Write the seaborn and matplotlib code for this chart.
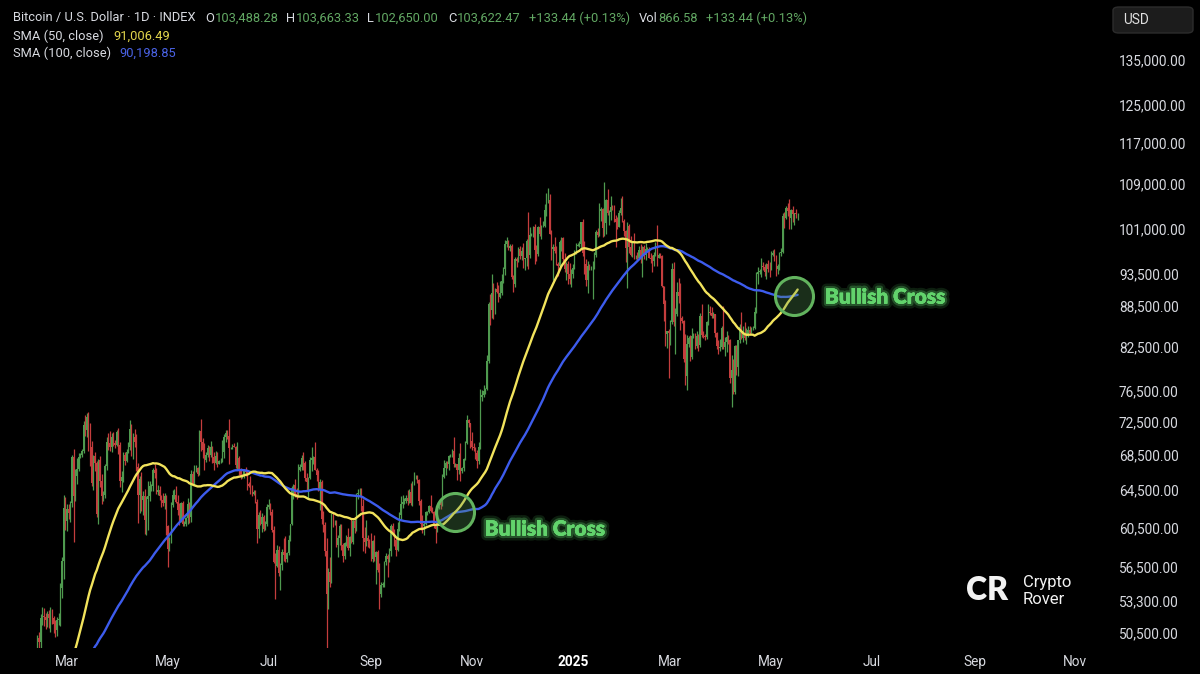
import numpy as np
import pandas as pd
import matplotlib
matplotlib.use("Agg")
import matplotlib.pyplot as plt
import matplotlib.patheffects as pe
from matplotlib.patches import FancyBboxPatch
from matplotlib.ticker import FixedLocator, NullLocator, FuncFormatter
import seaborn as sns

# === Data: BTC daily closes (thousand USD), one row per month ===
closes_2023 = [  # from 2023-11-01
    35.4, 34.9, 34.7, 35.1, 35.0, 35.0, 35.4, 35.6, 36.7, 37.3, 37.1, 37.0, 36.5, 35.5, 37.9,
    36.2, 36.6, 36.6, 37.4, 37.5, 35.8, 37.4, 37.3, 37.7, 37.8, 37.5, 37.2, 37.8, 37.9, 37.7,
    38.7, 39.5, 39.9, 41.9, 44.1, 44.0, 43.8, 44.2, 43.8, 43.8, 41.2, 41.5, 42.9, 43.0, 41.9, 42.2,
    41.4, 42.6, 42.3, 43.7, 43.8, 44.0, 43.7, 43.0, 43.6, 42.5, 43.4, 42.6, 42.1, 42.1, 42.3,
]
closes_2024 = [
    44.2, 44.9, 42.8, 44.2, 44.2, 43.9, 43.9, 47.0, 46.1, 46.6, 46.3, 42.8, 42.8, 41.7, 42.5, 43.1,
    42.7, 41.3, 41.6, 41.7, 41.6, 39.5, 39.8, 40.1, 39.9, 41.8, 42.1, 42.0, 43.3, 42.9, 42.6,
    43.1, 43.2, 43.0, 42.6, 42.7, 43.1, 44.3, 45.3, 47.1, 47.8, 48.3, 50.0, 49.7, 51.8, 52.0,
    51.9, 51.6, 52.1, 51.8, 52.3, 51.8, 51.3, 50.7, 51.6, 51.7, 54.5, 57.1, 62.5, 61.2,
    62.4, 62.0, 63.1, 68.3, 63.8, 66.1, 66.9, 68.3, 68.5, 69.0, 72.1, 71.5, 73.1, 71.4, 69.4, 65.3,
    68.4, 67.6, 61.9, 67.9, 65.5, 63.8, 64.0, 67.2, 70.0, 69.9, 69.5, 70.7, 69.9, 69.7, 71.3,
    69.7, 65.5, 66.0, 68.5, 67.8, 68.9, 69.4, 71.6, 69.1, 70.6, 70.0, 67.1, 63.9, 65.7, 63.4,
    63.8, 61.3, 63.5, 63.8, 64.9, 64.9, 66.8, 66.4, 64.3, 64.5, 63.8, 63.4, 63.1, 63.8, 60.6,
    58.3, 59.1, 62.9, 63.9, 64.0, 63.2, 62.3, 61.2, 63.1, 60.8, 60.8, 61.5, 63.0, 61.6, 66.3, 65.2,
    67.0, 67.0, 66.3, 71.4, 70.1, 69.1, 67.9, 68.5, 69.3, 68.5, 69.4, 68.3, 67.6, 68.4, 67.5,
    67.8, 67.8, 68.8, 70.6, 71.1, 70.8, 69.3, 69.3, 69.6, 69.5, 67.3, 68.2, 66.8, 66.0, 66.2,
    66.6, 66.5, 65.2, 64.9, 64.8, 64.1, 64.3, 63.2, 60.3, 61.8, 60.9, 61.6, 60.3, 60.9, 62.7,
    62.9, 62.1, 60.2, 57.0, 56.6, 58.2, 55.9, 56.7, 58.0, 57.7, 57.3, 57.9, 59.2, 60.8, 64.7, 65.1,
    64.1, 63.9, 66.7, 67.1, 68.2, 67.6, 65.9, 65.4, 65.8, 67.9, 68.2, 68.3, 66.8, 66.2, 64.6,
    65.4, 61.4, 60.7, 58.1, 54.0, 56.0, 55.1, 61.7, 60.9, 60.9, 58.7, 59.4, 60.6, 58.7, 57.6, 58.9,
    59.5, 58.4, 59.5, 59.0, 61.2, 60.4, 64.1, 64.2, 64.2, 62.8, 59.4, 59.0, 59.4, 59.1, 58.9,
    57.3, 59.1, 57.5, 58.0, 56.2, 54.0, 54.8, 54.9, 57.0, 57.6, 57.3, 58.1, 60.6, 60.0, 59.2,
    58.2, 60.3, 61.8, 63.0, 63.2, 63.3, 63.6, 63.3, 64.3, 63.1, 65.2, 65.8, 65.9, 65.6, 63.3,
    60.8, 60.6, 60.8, 62.1, 62.1, 62.8, 62.2, 62.1, 60.6, 60.3, 62.5, 63.2, 62.9, 66.0, 67.0, 67.6,
    67.4, 68.4, 68.4, 69.0, 67.4, 67.4, 66.7, 68.2, 66.6, 67.0, 68.0, 69.9, 72.7, 72.3, 70.2,
    69.5, 69.3, 68.7, 67.8, 69.4, 75.6, 75.9, 76.5, 76.7, 80.5, 88.7, 87.9, 90.5, 87.3, 91.1,
    90.6, 89.8, 90.5, 92.3, 94.3, 98.4, 98.9, 97.7, 98.0, 93.0, 91.9, 95.9, 95.6, 97.5, 96.4,
    97.2, 95.9, 96.0, 98.8, 96.6, 99.9, 99.9, 101.2, 97.4, 96.7, 101.2, 100.0, 101.4, 101.4, 104.3, 106.1,
    106.1, 100.1, 97.5, 97.8, 97.2, 95.1, 94.7, 98.7, 99.4, 95.8, 94.2, 95.1, 93.5, 92.6, 93.4,
]
closes_2025 = [
    94.4, 96.9, 98.1, 98.2, 98.3, 102.1, 96.9, 95.0, 92.5, 94.7, 94.5, 94.5, 94.5, 96.5, 100.5, 99.9,
    104.1, 104.4, 101.1, 102.0, 106.1, 103.7, 104.0, 104.8, 104.7, 102.6, 102.1, 101.3, 103.7, 104.7, 102.4,
    100.6, 97.7, 101.4, 97.9, 96.6, 96.6, 96.5, 96.5, 96.1, 97.4, 95.8, 97.9, 96.6, 97.5,
    97.6, 96.1, 95.8, 95.5, 96.6, 98.3, 96.1, 96.6, 96.3, 91.5, 88.7, 84.3, 84.7, 84.4,
    86.0, 94.3, 86.1, 87.2, 90.6, 89.9, 86.7, 86.2, 80.7, 78.5, 82.9, 83.7, 81.1, 84.0, 84.3, 82.6,
    84.0, 82.7, 86.9, 84.2, 84.0, 83.8, 86.1, 87.5, 87.4, 86.9, 87.2, 84.4, 82.6, 82.3, 82.5,
    85.2, 82.5, 83.1, 83.8, 83.5, 78.2, 79.2, 76.3, 82.6, 79.6, 83.4, 85.3, 83.7, 84.5, 83.7,
    84.0, 84.9, 84.5, 85.1, 85.1, 87.5, 93.4, 93.7, 93.9, 94.7, 94.6, 93.8, 95.0, 94.3, 94.2,
    96.5, 96.9, 95.9, 94.3, 94.7, 96.8, 97.0, 103.2, 102.9, 104.6, 104.1, 102.8, 104.2, 103.5, 103.7,
    103.5, 103.6,
]

# upper / lower wick beyond the candle body (thousand USD), from 2024-02-12
wick_up_2024 = [
    0.3, 0.6, 0.3, 0.8, 0.7, 0.3, 0.3, 0.4, 0.5, 0.3, 0.2, 0.3, 0.3, 0.5, 0.5, 0.4, 1.5, 1.2,
    0.6, 0.6, 0.2, 0.2, 0.9, 0.8, 1.3, 0.4, 0.2, 0.2, 0.5, 1.3, 0.5, 0.7, 1.0, 0.8,
    0.1, 0.4, 0.2, 0.1, 0.5, 0.8, 0.4, 0.2, 0.6, 1.1, 1.5, 0.4, 0.5, 0.4, 0.2,
    0.4, 0.3, 0.6, 0.3, 0.3, 0.3, 0.7, 1.1, 0.6, 0.5, 1.0, 1.0, 0.5, 0.4, 0.8,
    0.6, 0.8, 0.3, 1.7, 0.6, 0.3, 0.2, 0.7, 0.6, 0.6, 0.4, 0.1, 0.8, 0.4, 0.2,
    0.1, 0.4, 0.3, 0.6, 0.6, 1.0, 0.7, 0.8, 0.1, 0.2, 0.4, 0.1, 0.6, 0.2, 0.4, 0.3,
    0.3, 0.3, 0.1, 0.1, 1.4, 0.4, 0.8, 0.4, 0.4, 0.3, 0.8, 0.2, 0.6, 0.6, 0.5,
    0.1, 0.4, 1.5, 0.4, 0.4, 0.4, 2.0, 0.1, 0.2, 0.3, 0.1, 1.8, 0.2, 0.2, 0.1,
    0.3, 0.5, 0.1, 0.2, 1.2, 0.3, 0.2, 0.2, 0.3, 0.3, 0.5, 0.4, 0.2, 0.3, 0.3,
    0.6, 0.2, 0.3, 0.4, 0.9, 0.5, 0.4, 0.2, 0.3, 1.4, 1.9, 0.1, 0.5, 0.1, 0.2, 0.1,
    0.6, 0.6, 0.8, 0.3, 0.3, 0.6, 0.2, 0.5, 0.2, 0.4, 1.3, 0.1, 1.7, 0.2, 0.5,
    0.3, 0.2, 0.8, 0.4, 1.3, 0.4, 1.5, 0.3, 0.4, 0.4, 0.4, 0.3, 0.3, 0.3, 0.2, 0.1,
    0.2, 0.9, 0.1, 1.9, 0.1, 0.4, 0.1, 0.4, 0.5, 0.5, 0.7, 1.1, 1.9, 0.3, 0.2,
    1.0, 0.1, 0.6, 0.1, 0.2, 0.7, 0.3, 0.2, 0.1, 0.3, 0.2, 0.3, 0.2, 0.4, 0.3,
    0.2, 0.8, 0.3, 0.8, 0.7, 0.3, 0.3, 0.9, 0.3, 1.0, 0.3, 0.7, 0.3, 0.3, 0.1,
    0.2, 1.0, 0.4, 0.1, 0.1, 0.1, 1.1, 0.4, 0.1, 1.1, 0.1, 0.2, 0.1, 0.3, 0.9, 0.2,
    0.2, 0.1, 0.2, 0.2, 1.6, 0.2, 0.1, 0.5, 1.7, 0.1, 0.1, 0.3, 0.6, 0.2, 0.1,
    1.1, 0.4, 0.2, 0.4, 0.7, 1.1, 0.7, 0.8, 0.1, 0.8, 0.3, 1.6, 3.0, 1.5, 0.1,
    1.0, 1.1, 1.8, 1.1, 0.3, 0.6, 0.6, 0.1, 0.4, 0.4, 0.2, 0.3, 0.3, 0.3, 0.5,
    0.6, 1.3, 0.1, 0.4, 5.2, 1.4, 0.4, 0.3, 0.6, 0.8, 0.3, 1.9, 0.3, 0.9, 1.1, 1.2,
    2.2, 1.0, 0.6, 0.5, 1.7, 0.9, 0.3, 0.3, 0.2, 0.1, 1.0, 0.2, 0.4, 1.7, 0.8,
]
wick_up_2025 = [
    0.6, 0.4, 0.4, 0.4, 0.5, 0.1, 0.6, 2.0, 0.8, 0.8, 0.3, 0.3, 1.1, 0.5, 0.3, 0.6,
    1.4, 0.5, 0.3, 7.5, 0.1, 2.0, 0.3, 2.1, 0.3, 0.4, 0.7, 0.9, 0.5, 1.7, 2.1,
    0.2, 0.1, 0.7, 0.4, 1.9, 2.3, 3.7, 0.1, 0.5, 0.6, 0.9, 0.1, 0.3, 1.0,
    0.2, 0.2, 0.7, 0.7, 0.5, 0.4, 3.3, 0.2, 0.2, 0.3, 0.1, 0.6, 0.1, 0.3,
    0.3, 0.9, 1.0, 1.0, 1.6, 2.2, 2.1, 0.2, 0.1, 3.6, 1.2, 0.3, 0.5, 1.2, 0.1, 0.1,
    0.7, 0.3, 0.5, 1.8, 0.5, 0.3, 0.1, 1.3, 1.0, 0.9, 0.4, 0.1, 0.2, 0.9, 1.1,
    0.3, 3.2, 0.7, 0.9, 0.3, 0.1, 2.1, 1.6, 0.1, 0.1, 0.1, 0.5, 2.3, 0.9, 1.5,
    1.2, 0.5, 0.5, 0.2, 0.3, 0.8, 0.3, 0.9, 0.3, 1.4, 0.6, 0.4, 0.2, 0.7, 1.0,
    0.7, 0.5, 0.6, 0.6, 0.4, 0.2, 0.7, 0.6, 0.8, 0.4, 0.9, 2.2, 0.3, 0.8, 0.1,
    0.7, 0.1,
]
wick_dn_2024 = [
    1.0, 1.5, 0.5, 0.6, 0.8, 0.8, 0.6, 0.9, 1.2, 0.5, 0.8, 0.6, 0.5, 0.4, 0.6, 0.9, 1.7, 1.0,
    1.1, 0.6, 0.9, 0.4, 4.8, 0.5, 0.9, 0.3, 0.2, 0.2, 0.3, 0.7, 0.8, 2.4, 2.2, 0.3,
    0.8, 1.0, 0.3, 1.1, 0.7, 0.8, 0.5, 0.4, 0.4, 0.8, 0.5, 0.6, 0.3, 0.4, 0.1,
    1.1, 0.7, 1.2, 0.6, 0.5, 0.1, 0.2, 0.3, 0.7, 1.1, 0.6, 0.5, 2.9, 1.9, 1.2,
    1.6, 1.5, 1.6, 3.3, 0.5, 0.5, 0.5, 0.6, 0.2, 0.4, 0.4, 0.7, 0.3, 0.7, 0.9,
    1.8, 0.2, 0.2, 0.3, 0.4, 0.1, 0.5, 0.5, 0.1, 0.2, 0.2, 0.2, 0.7, 0.6, 0.5, 0.1,
    0.1, 0.5, 0.2, 0.1, 1.1, 0.9, 1.1, 0.2, 0.2, 0.7, 0.2, 0.7, 0.8, 0.2, 0.4,
    0.1, 0.2, 0.1, 0.6, 0.5, 0.4, 1.8, 0.1, 0.1, 0.1, 0.3, 0.6, 0.6, 0.3, 0.1,
    0.3, 0.4, 0.7, 0.1, 0.7, 0.3, 0.2, 0.1, 1.4, 0.9, 0.2, 0.9, 0.2, 0.1, 0.3,
    0.3, 0.3, 0.2, 0.1, 3.1, 0.1, 0.2, 1.6, 0.5, 0.6, 0.3, 0.3, 0.2, 0.1, 0.1, 1.2,
    0.4, 0.4, 0.2, 0.1, 0.3, 0.8, 0.4, 0.9, 1.9, 0.1, 1.3, 0.8, 0.1, 0.7, 0.2,
    2.3, 0.5, 0.7, 0.5, 4.9, 1.4, 0.5, 0.1, 0.4, 0.2, 0.2, 1.2, 0.7, 0.5, 0.6, 0.3,
    0.3, 0.2, 0.8, 0.1, 0.2, 0.5, 0.3, 0.6, 0.4, 0.6, 1.3, 1.1, 0.4, 0.6, 0.5,
    0.2, 0.3, 0.4, 2.6, 0.2, 1.4, 0.3, 0.2, 0.3, 0.3, 1.7, 0.3, 0.5, 0.4, 0.6,
    0.6, 0.1, 0.2, 0.4, 0.5, 0.2, 0.2, 0.4, 0.2, 0.2, 0.3, 0.1, 0.1, 0.3, 0.4,
    0.6, 0.7, 0.9, 0.1, 0.3, 0.1, 0.1, 0.1, 0.2, 1.4, 0.3, 0.1, 0.5, 0.1, 0.1, 0.8,
    0.4, 0.6, 0.1, 0.1, 0.3, 0.3, 1.1, 0.4, 1.1, 0.2, 0.4, 0.1, 0.1, 0.4, 0.9,
    0.4, 0.3, 0.7, 0.8, 0.4, 0.2, 0.4, 0.2, 0.4, 0.1, 0.3, 2.3, 1.3, 0.8, 0.1,
    0.2, 0.7, 0.1, 0.3, 0.3, 1.1, 0.6, 0.3, 0.5, 0.3, 1.3, 0.5, 1.0, 0.3, 0.5,
    0.7, 1.5, 1.9, 1.2, 2.3, 0.6, 0.2, 0.3, 2.4, 1.1, 0.3, 0.2, 0.7, 0.2, 0.2, 1.1,
    0.5, 0.1, 1.8, 5.0, 0.3, 0.2, 1.6, 0.4, 1.5, 0.4, 0.5, 1.8, 1.7, 0.7, 1.3,
]
wick_dn_2025 = [
    0.6, 0.1, 0.2, 0.1, 0.3, 0.8, 0.5, 1.5, 0.9, 2.0, 0.5, 0.5, 5.0, 0.3, 0.3, 0.4,
    0.1, 1.8, 1.5, 1.4, 1.9, 0.4, 2.1, 1.5, 0.4, 0.4, 4.3, 0.3, 0.1, 0.3, 0.2,
    0.9, 2.4, 6.5, 1.0, 0.3, 0.4, 0.6, 0.6, 0.4, 0.3, 0.6, 2.8, 0.7, 0.9,
    0.2, 0.1, 0.6, 1.8, 0.7, 0.2, 1.4, 0.1, 0.3, 0.2, 2.5, 1.7, 2.0, 6.2,
    1.7, 0.3, 0.7, 4.7, 0.3, 1.0, 1.8, 0.3, 0.4, 1.2, 1.9, 0.4, 0.6, 0.3, 0.3, 0.4,
    0.3, 0.8, 0.3, 0.3, 0.3, 0.3, 0.2, 0.5, 0.3, 0.2, 0.3, 0.5, 0.4, 0.8, 0.4,
    0.3, 0.4, 1.3, 1.4, 0.6, 0.7, 3.8, 0.3, 0.2, 1.0, 1.2, 0.4, 0.1, 0.6, 0.2,
    0.8, 0.1, 0.2, 0.1, 0.2, 0.1, 0.1, 1.5, 0.3, 1.0, 0.5, 0.7, 1.1, 0.5, 1.2,
    0.1, 0.2, 0.3, 1.2, 0.8, 0.6, 0.5, 0.2, 1.8, 0.2, 0.9, 1.8, 1.8, 1.3, 1.8,
    0.6, 1.0,
]

# axis labels
y_ticks = [50500, 53300, 56500, 60500, 64500, 68500, 72500, 76500, 82500,
           88500, 93500, 101000, 109000, 117000, 125000, 135000]
x_ticks = ["2024-03-01", "2024-05-01", "2024-07-01", "2024-09-01", "2024-11-01", "2025-01-01",
           "2025-03-01", "2025-05-01", "2025-07-01", "2025-09-01", "2025-11-01"]
x_labels = ["Mar", "May", "Jul", "Sep", "Nov", "2025", "Mar", "May", "Jul", "Sep", "Nov"]

# === Build frame ===
df = pd.DataFrame({"close": np.array(closes_2023 + closes_2024 + closes_2025) * 1000})
df["date"] = pd.date_range("2023-11-01", periods=len(df), freq="D")
df["open"] = df["close"].shift(1)
df["sma50"] = df["close"].rolling(50).mean()
df["sma100"] = df["close"].rolling(100).mean()

c = df[df["date"] >= "2024-02-12"].copy()
up = np.array(wick_up_2024 + wick_up_2025) * 1000
dn = np.array(wick_dn_2024 + wick_dn_2025) * 1000
c["high"] = np.maximum(c["open"], c["close"]) + up
c["low"] = np.minimum(c["open"], c["close"]) - dn

# === Style ===
BG = "#000000"
TXT = "#d8dae0"
GREEN_TXT = "#62a863"
UP_C = "#4f9a4f"
DN_C = "#c43d3d"
YELLOW = "#f2e35c"
BLUE = "#3d5ced"

sns.set_theme(style="dark", rc={"axes.facecolor": BG, "figure.facecolor": BG})
plt.rcParams["font.family"] = ["Roboto", "DejaVu Sans"]

fig = plt.figure(figsize=(12, 6.74), dpi=100)
ax = fig.add_axes([0, 26 / 674, 1105 / 1200, 648 / 674])
ax.set_facecolor(BG)

# candles
cols = np.where(c["close"] >= c["open"], UP_C, DN_C)
ax.vlines(c["date"], c["low"], c["high"], colors=cols, lw=0.9, zorder=2)
ax.bar(c["date"], (c["close"] - c["open"]).abs(), bottom=np.minimum(c["open"], c["close"]),
       width=0.75, color=cols, linewidth=0, zorder=2)

# moving averages
sns.lineplot(data=df, x="date", y="sma100", color=BLUE, lw=1.7, ax=ax, zorder=4)
sns.lineplot(data=df, x="date", y="sma50", color=YELLOW, lw=1.7, ax=ax, zorder=5)

# bullish crosses
diff = df["sma50"] - df["sma100"]
crosses = df[(diff > 0) & (diff.shift(1) <= 0)]
first = crosses[crosses["date"] < "2025-01-01"].iloc[-1]
last = crosses.iloc[-1]
glow = [pe.withStroke(linewidth=7, foreground=(0.37, 0.82, 0.41, 0.15)),
        pe.withStroke(linewidth=3.5, foreground=(0.37, 0.82, 0.41, 0.3)), pe.Normal()]
for row, off in [(first, (21, -12)), (last, (22, -1))]:
    ax.scatter([row["date"]], [row["sma100"]], s=750, facecolor=(0.35, 0.6, 0.35, 0.3),
               edgecolor="#62b35e", linewidth=2.2, zorder=6)
    ax.annotate("Bullish Cross", xy=(row["date"], row["sma100"]), xytext=off,
                textcoords="offset points", ha="left", va="center", color="#62d36c",
                fontsize=15, fontweight="heavy", family=["Lato", "DejaVu Sans"],
                path_effects=glow, zorder=7)

# axes
ax.set_yscale("log")
ax.set_ylim(49190, 149500)
x0 = pd.Timestamp("2024-03-01")
ax.set_xlim(x0 - pd.Timedelta(days=67 / 1.653), x0 + pd.Timedelta(days=1038 / 1.653))
ax.yaxis.tick_right()
ax.yaxis.set_major_locator(FixedLocator(y_ticks))
ax.yaxis.set_minor_locator(NullLocator())
ax.yaxis.set_major_formatter(FuncFormatter(lambda v, p: f"{v:,.2f}"))
ax.set_xticks(pd.to_datetime(x_ticks))
ax.set_xticklabels(x_labels)
ax.tick_params(axis="y", length=0, pad=10, labelsize=9.8, labelcolor=TXT)
ax.tick_params(axis="x", length=0, pad=5, labelsize=9.8, labelcolor=TXT)
for lab in ax.get_xticklabels():
    if lab.get_text() == "2025":
        lab.set_fontweight("bold")
        lab.set_color("#ffffff")
ax.set_xlabel("")
ax.set_ylabel("")
ax.grid(False)
for s in ax.spines.values():
    s.set_visible(False)

# header legend
HFS = 9.3

def header(x, y, parts):
    prev = None
    for s, col in parts:
        if prev is None:
            prev = ax.annotate(s, xy=(x, 674 - y), xycoords="figure pixels", color=col,
                               fontsize=HFS, va="center", ha="left", annotation_clip=False)
        else:
            prev = ax.annotate(s, xy=(1, 0.5), xycoords=prev, xytext=(0.5, 0),
                               textcoords="offset points", color=col, fontsize=HFS,
                               va="center", ha="left", annotation_clip=False)

header(13, 18, [("Bitcoin / U.S. Dollar · 1D · INDEX", TXT)])
header(205, 18, [("O", TXT), ("103,488.28", GREEN_TXT)])
header(286, 18, [("H", TXT), ("103,663.33", GREEN_TXT)])
header(367, 18, [("L", TXT), ("102,650.00", GREEN_TXT)])
header(448, 18, [("C", TXT), ("103,622.47", GREEN_TXT)])
header(529, 18, [("+133.44 (+0.13%)", GREEN_TXT)])
header(639, 18, [("Vol", TXT), ("866.58", GREEN_TXT)])
header(706, 18, [("+133.44 (+0.13%)", GREEN_TXT)])
header(13, 36, [("SMA (50, close)", TXT)])
header(113, 36, [("91,006.49", "#e2d54c")])
header(13, 53, [("SMA (100, close)", TXT)])
header(119, 53, [("90,198.85", "#4a63e6")])

# currency box
fig.patches.append(FancyBboxPatch((1113 / 1200, 1 - 33 / 674), 80 / 1200, 26 / 674,
                                  boxstyle="round,pad=0,rounding_size=0.005",
                                  transform=fig.transFigure, facecolor="#1c1c1c",
                                  edgecolor="#2c2c2c", lw=1))
fig.text(1123 / 1200, 1 - 20 / 674, "USD", color="#e0e0e0", fontsize=9.8, va="center")

# watermark
fig.text(966 / 1200, 1 - 591 / 674, "CR", color="#f2f2f2", fontsize=23, fontweight="heavy",
         va="center", family=["Lato", "DejaVu Sans"])
fig.text(1023 / 1200, 1 - 583 / 674, "Crypto", color="#f2f2f2", fontsize=12, va="center")
fig.text(1023 / 1200, 1 - 600 / 674, "Rover", color="#f2f2f2", fontsize=12, va="center")

fig.savefig("out.png", dpi=100, facecolor=BG)
